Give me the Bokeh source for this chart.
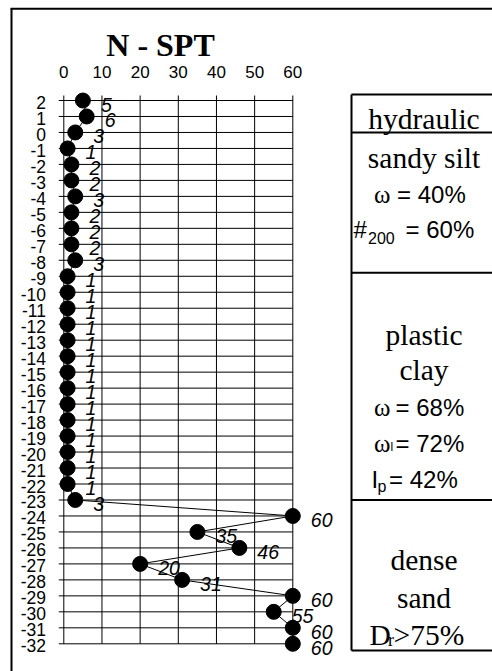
from bokeh.plotting import figure
from bokeh.models import Range1d, ColumnDataSource
from bokeh.core.properties import value
from bokeh.embed import file_html
from bokeh.resources import INLINE

# ---------------- data ----------------
depth = [2, 1, 0, -1, -2, -3, -4, -5, -6, -7, -8,
         -9, -10, -11, -12, -13, -14, -15, -16, -17, -18, -19, -20, -21, -22,
         -23, -24, -25, -26, -27, -28, -29, -30, -31, -32]
n_spt = [5, 6, 3, 1, 2, 2, 3, 2, 2, 2, 3,
         1, 1, 1, 1, 1, 1, 1, 1, 1, 1, 1, 1, 1, 1,
         3, 60, 35, 46, 20, 31, 60, 55, 60, 60]
x_ticks = [0, 10, 20, 30, 40, 50, 60]
x_tick_labels = [str(t) for t in x_ticks]
y_ticks = depth
y_tick_labels = [str(t) for t in y_ticks]
# layer boundaries (m): top of table, hydraulic fill / sandy silt, silt / clay, clay / sand, bottom
layer_bounds = [2.375, 0, -8.78, -23, -32.42]
title_text = "N - SPT"

# ---------------- layout (pixels) ----------------
W, H = 492, 671
X0, PX_X = 63.3, 229.0 / 60      # px of N=0, px per N unit
Y2, PX_Y = 100.0, 543.3 / 34     # px of depth 2, px per metre
MID = 0.3                        # baseline -> middle shift (em)

p = figure(width=W, height=H, output_backend="svg", toolbar_location=None,
           x_range=Range1d(-X0 / PX_X, (W - X0) / PX_X),
           y_range=Range1d(2 - (H - Y2) / PX_Y, 2 + Y2 / PX_Y),
           min_border=0)
p.min_border_left = p.min_border_right = p.min_border_top = p.min_border_bottom = 0
p.axis.visible = False
p.grid.visible = False
p.outline_line_color = None
p.background_fill_color = "white"
p.border_fill_color = "white"
p.extra_x_ranges = {"px": Range1d(0, W)}
p.extra_y_ranges = {"py": Range1d(H, 0)}

SERIF, SANS = "Liberation Serif", "Liberation Sans"


def put(t, x, base, align, font, size, style="normal"):
    p.text(x=[x], y=[base - MID * size], text=[t], x_range_name="px", y_range_name="py",
           text_font=value(font), text_font_size=f"{size}px", text_align=align,
           text_font_style=style, text_baseline="middle", text_color="black")


# outer frame
p.segment(x0=[11, 10], y0=[H + 5, 8.3], x1=[11, W + 5], y1=[8.3, 8.3],
          x_range_name="px", y_range_name="py", line_color="black", line_width=2)

# title
put(title_text, 160, 54, "center", SERIF, 32, "bold")

# grid lines with 5px stubs outside the grid
stub_x = 5 / PX_X
stub_y = 5 / PX_Y
p.segment(x0=[-stub_x] * len(y_ticks), x1=[max(x_ticks)] * len(y_ticks),
          y0=y_ticks, y1=y_ticks, line_color="black", line_width=1)
p.segment(x0=x_ticks, x1=x_ticks, y0=[max(y_ticks) + stub_y] * len(x_ticks),
          y1=[min(y_ticks)] * len(x_ticks), line_color="black", line_width=1)

# tick labels (top and left)
p.text(x=x_ticks, y=[76.5 - MID * 17] * len(x_ticks), text=x_tick_labels, y_range_name="py",
       text_font=value(SANS), text_font_size="17px", text_align="center",
       text_baseline="middle", text_color="black")
p.text(x=[45.5] * len(y_ticks), y=y_ticks, text=y_tick_labels, x_range_name="px",
       y_offset=2, text_font=value(SANS), text_font_size="17.5px",
       text_align="right", text_baseline="middle", text_color="black")

# data
src = ColumnDataSource(dict(n=n_spt, d=depth, lab=[str(v) for v in n_spt]))
p.line("n", "d", source=src, line_color="black", line_width=1)
p.scatter("n", "d", source=src, size=15, fill_color="black", line_color="black")
p.text("n", "d", text="lab", source=src, x_offset=18, y_offset=4,
       text_font=value(SANS), text_font_style="italic",
       text_font_size="19.5px", text_baseline="middle", text_align="left",
       text_color="black")

# soil table at right
TL, TR = 351, W + 10
p.segment(x0=[TL] * len(layer_bounds), x1=[TR] * len(layer_bounds),
          y0=layer_bounds, y1=layer_bounds, x_range_name="px",
          line_color="black", line_width=2)
p.segment(x0=[TL], x1=[TL], y0=[layer_bounds[0]], y1=[layer_bounds[-1]],
          x_range_name="px", line_color="black", line_width=2)

CX = 423.5
SZ, SS = 29.5, 24
pieces = [
    # text, x, baseline y, align, font, size
    ("hydraulic", CX, 127, "center", SERIF, SZ),
    ("sandy silt", CX, 166, "center", SERIF, SZ),
    ("ω", 390, 201, "right", SERIF, 25),
    ("= 40%", 396.5, 201, "left", SANS, SS),
    ("#", 353, 236, "left", SANS, SS),
    ("200", 367.5, 242, "left", SANS, 16),
    ("= 60%", 405, 236, "left", SANS, SS),
    ("plastic", CX, 343, "center", SERIF, SZ),
    ("clay", CX, 378, "center", SERIF, SZ),
    ("ω", 390, 414, "right", SERIF, 25),
    ("= 68%", 395, 414, "left", SANS, SS),
    ("ω", 390, 450, "right", SERIF, 25),
    ("l", 390, 450, "left", SANS, 12),
    ("= 72%", 395, 450, "left", SANS, SS),
    ("I", 371, 486, "left", SANS, SS),
    ("p", 377, 491, "left", SANS, 16),
    ("= 42%", 388.5, 486, "left", SANS, SS),
    ("dense", CX, 568, "center", SERIF, SZ),
    ("sand", CX, 606, "center", SERIF, SZ),
    ("D", 369, 643, "left", SERIF, SZ),
    ("r", 387.5, 645, "left", SERIF, 18),
    (">75%", 393, 643, "left", SERIF, SZ),
]
for t, x, y, al, f, s in pieces:
    put(t, x, y, al, f, s)

open("out.html", "w").write(file_html(p, INLINE))
